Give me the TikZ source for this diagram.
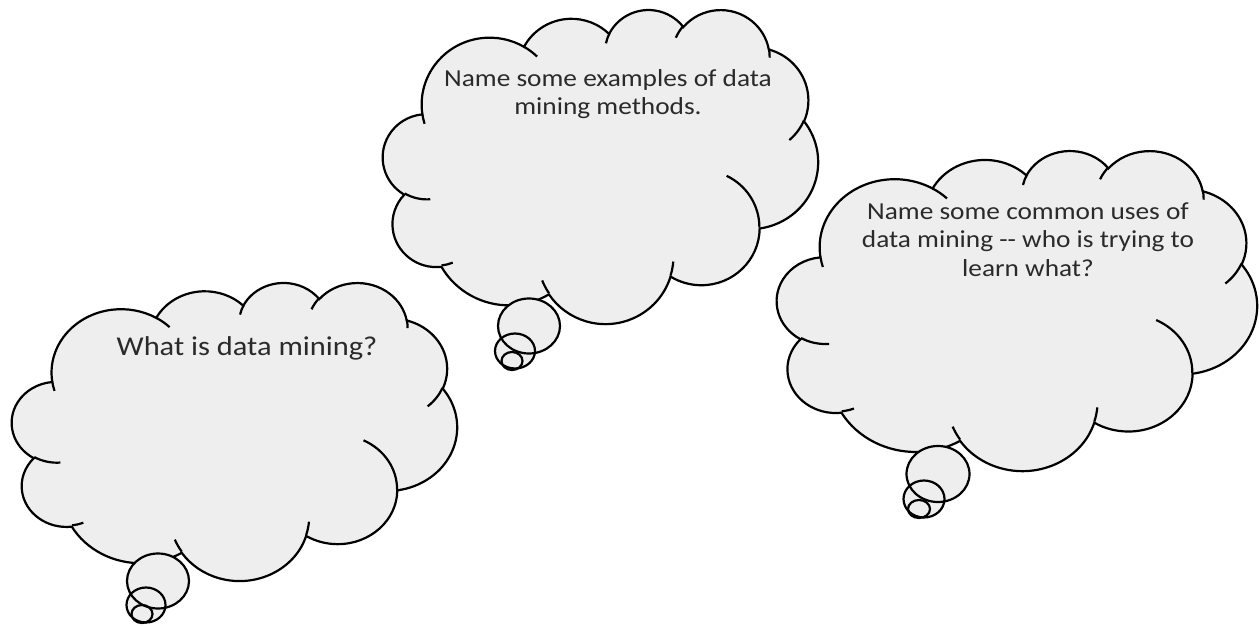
\documentclass[tikz,border=0pt]{standalone}
\usepackage{fontspec}
\setmainfont{Carlito}[FakeStretch=1.12]
\usepackage{tikz}

\definecolor{cloudfill}{HTML}{EEEEEE}
\definecolor{cloudtext}{HTML}{2A2A2A}

% outline arcs: x radius / y radius / start / sweep
\newcommand{\cloudbody}{%
  67.53/91.90/-190.48748/123.78053,
  53.33/72.67/-144.10238/89.94523,
  43.65/59.45/-145.80792/99.72302,
  48.57/65.95/-130.98607/117.24173,
  53.33/72.73/-78.70888/109.02692,
  67.75/92.20/-46.26725/130.26900,
  57.85/78.67/0.62502/114.03333,
  67.52/92.15/22.45160/115.17255,
  77.20/105.43/66.24263/75.71102,
  43.60/59.18/-274.94208/146.73557,
  43.45/59.45/-246.82850/152.51885}
\newcommand{\cloudcreases}{%
  46.93/261.77/43.45/59.45/86.742/26.4295,
  69.28/348.99/43.60/59.18/73.61047/11.44747,
  164.78/390.90/67.52/92.15/137.62415/14.0811,
  288.27/347.51/67.52/92.15/6.45327/15.99835,
  341.29/229.54/57.85/78.67/-70.29235/70.91737,
  417.98/153.54/53.33/72.73/30.31803/27.7515,
  383.24/54.26/48.57/65.95/-13.74433/14.8589,
  290.78/39.52/48.57/65.95/-149.18145/18.19537,
  221.41/47.20/43.65/59.45/-163.49427/17.68635,
  140.00/51.92/67.53/91.90/-66.70695/12.31935,
  41.27/157.89/67.53/91.90/157.65435/11.85817}

% #1,#2 top left corner, #3 width, #4 height
\newcommand{\thoughtcloud}[4]{%
  \pgfmathsetmacro\cloudx{#3/864}
  \pgfmathsetmacro\cloudy{#4/864}
  \begin{scope}[shift={(#1,#2)}, x=\cloudx pt, y=-\cloudy pt]
    \gdef\cloudpath{}
    \foreach \rx/\ry/\st/\sw in \cloudbody {
      \pgfmathsetmacro\ta{atan2(\rx*sin(\st),\ry*cos(\st))}
      \pgfmathsetmacro\tb{atan2(\rx*sin(\st+\sw),\ry*cos(\st+\sw))}
      \pgfmathsetmacro\td{mod(\tb-\ta+720,360)}
      \xdef\cloudpath{\cloudpath arc[start angle=\ta, delta angle=\td, x radius=\rx, y radius=\ry]}
    }
    \draw[puff] (39.00,143.70) \cloudpath -- cycle;
  \end{scope}}
\newcommand{\cloudlines}[4]{%
  \pgfmathsetmacro\cloudx{#3/864}
  \pgfmathsetmacro\cloudy{#4/864}
  \begin{scope}[shift={(#1,#2)}, x=\cloudx pt, y=-\cloudy pt]
    \foreach \px/\py/\rx/\ry/\st/\sw in \cloudcreases {
      \pgfmathsetmacro\ta{atan2(\rx*sin(\st),\ry*cos(\st))}
      \pgfmathsetmacro\tb{atan2(\rx*sin(\st+\sw),\ry*cos(\st+\sw))}
      \pgfmathsetmacro\td{mod(\tb-\ta+720,360)}
      \draw[crease] (\px,\py) arc[start angle=\ta, delta angle=\td, x radius=\rx, y radius=\ry];
    }
  \end{scope}}

\begin{document}
\begin{tikzpicture}[x=0.5pt, y=-0.5pt,
    puff/.style={fill=cloudfill, draw=black, line width=1.1pt},
    crease/.style={draw=black, line width=1.1pt},
    bubble/.style={line width=1.1pt},
    question/.style={font=\fontsize{12.2}{14.3}\selectfont, text=cloudtext, align=center, inner sep=0pt}]
        \useasboundingbox (0,0) rectangle (1259,626);

        \thoughtcloud{12}{282}{445}{298}
        \thoughtcloud{383}{9}{435}{314}
        \thoughtcloud{777}{150}{480}{320}

        \begin{scope}[bubble]
            \fill[cloudfill] (158,581) ellipse [x radius=31, y radius=27.5];
            \fill[cloudfill] (146,605) ellipse [x radius=19.5, y radius=17.5];
            \fill[cloudfill] (142,614) ellipse [x radius=10.5, y radius=9];
            \draw (158,581) ellipse [x radius=31, y radius=27.5];
            \draw (146,605) ellipse [x radius=19.5, y radius=17.5];
            \draw (142,614) ellipse [x radius=10.5, y radius=9];

            \fill[cloudfill] (529,326) ellipse [x radius=31, y radius=27.5];
            \fill[cloudfill] (515,351) ellipse [x radius=20, y radius=17.5];
            \fill[cloudfill] (512,361) ellipse [x radius=10.5, y radius=9];
            \draw (529,326) ellipse [x radius=31, y radius=27.5];
            \draw (515,351) ellipse [x radius=20, y radius=17.5];
            \draw (512,361) ellipse [x radius=10.5, y radius=9];

            \fill[cloudfill] (938,474) ellipse [x radius=31.5, y radius=28];
            \fill[cloudfill] (924,499) ellipse [x radius=20.5, y radius=18.5];
            \fill[cloudfill] (919,509) ellipse [x radius=11, y radius=9];
            \draw (938,474) ellipse [x radius=31.5, y radius=28];
            \draw (924,499) ellipse [x radius=20.5, y radius=18.5];
            \draw (919,509) ellipse [x radius=11, y radius=9];
        \end{scope}

        \cloudlines{12}{282}{445}{298}
        \cloudlines{383}{9}{435}{314}
        \cloudlines{777}{150}{480}{320}

        \node[question, font=\fontsize{13.6}{15}\selectfont, anchor=north] (whatis) at (247,336) {What is data mining?};
        \node[question, anchor=north] (methods) at (608,69) {Name some examples of data\\mining methods.};
        \node[question, anchor=north] (uses) at (1028,202) {Name some common uses of\\data mining -{}- who is trying to\\learn what?};
\end{tikzpicture}
\end{document}
